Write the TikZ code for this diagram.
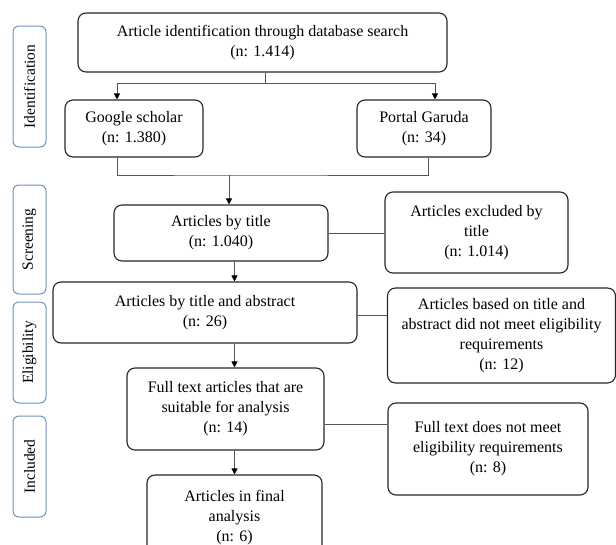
\documentclass[tikz,border=0pt]{standalone}
\usepackage{fontspec}
\setmainfont{Liberation Serif}
\usetikzlibrary{arrows.meta}
\definecolor{stageblue}{HTML}{6F93BE}
\definecolor{linegray}{HTML}{555555}
\tikzset{
  box/.style={draw=black!85, line width=1.1pt, rounded corners=8pt, align=center,
    font=\fontsize{16}{20}\selectfont, inner sep=2pt},
  stage/.style={draw=stageblue, line width=1pt, rounded corners=6pt, rotate=90,
    font=\fontsize{15.5}{18}\selectfont, inner sep=0pt},
  link/.style={draw=linegray, line width=0.8pt},
  arr/.style={link, -{Triangle[length=6pt,width=6pt,color=black]}}
}
\begin{document}
\begin{tikzpicture}[x=1pt,y=-1pt]
\useasboundingbox (0,0) rectangle (616,544);
\clip (0,0) rectangle (616,544);
% stages
\node[stage, minimum width=121, minimum height=33] (ident) at (29.5,86.5) {Identification};
\node[stage, minimum width=109, minimum height=33] (screen) at (29.5,239.5) {Screening};
\node[stage, minimum width=101, minimum height=33] (elig) at (29.5,352.5) {Eligibility};
\node[stage, minimum width=101, minimum height=33] (incl) at (29.5,466.5) {Included};
% boxes
\node[box, minimum width=369, minimum height=59] (search) at (262.5,42.5) {Article identification through database search\\(n: 1.414)};
\node[box, minimum width=138, minimum height=57] (google) at (134,128.5) {Google scholar\\(n: 1.380)};
\node[box, minimum width=134, minimum height=57] (garuda) at (424,128.5) {Portal Garuda\\(n: 34)};
\node[box, minimum width=214, minimum height=56] (bytitle) at (221,233) {Articles by title\\(n: 1.040)};
\node[box, minimum width=183, minimum height=81] (extitle) at (476.5,232.5) {Articles excluded by\\title\\(n: 1.014)};
\node[box, minimum width=304, minimum height=61] (byabs) at (205,312.5) {Articles by title and abstract\\(n: 26)};
\node[box, minimum width=228, minimum height=95] (exabs) at (501.5,335.5) {Articles based on title and\\abstract did not meet eligibility\\requirements\\(n: 12)};
\node[box, minimum width=197, minimum height=82] (full) at (225.5,409) {Full text articles that are\\suitable for analysis\\(n: 14)};
\node[box, minimum width=200, minimum height=92] (exfull) at (488,449) {Full text does not meet\\eligibility requirements\\(n: 8)};
\node[box, minimum width=175, minimum height=86] (final) at (234.5,518) {Articles in final\\analysis\\(n: 6)};
% connectors
\coordinate (split) at (265,83);
\coordinate (merge) at (229,175);
\draw[link] (search.south -| split) -- (split);
\draw[arr] (split) -| ([xshift=-17pt]google.north);
\draw[arr] (split) -| ([xshift=11pt]garuda.north);
\draw[link] ([xshift=-17pt]google.south) |- (merge) -| ([xshift=4pt]garuda.south);
\draw[arr] (merge) -- (merge |- bytitle.north);
\draw[arr] (bytitle.south -| final.north) -- (byabs.north -| final.north);
\draw[arr] (byabs.south -| final.north) -- (full.north -| final.north);
\draw[arr] (full.south -| final.north) -- (final.north);
\draw[link] (bytitle.east) -- (bytitle.east -| extitle.west);
\draw[link] ([yshift=-2.5pt]byabs.east) -- ([yshift=-2.5pt]byabs.east -| exabs.west);
\draw[link] ([yshift=-15pt]full.east) -- ([yshift=-15pt]full.east -| exfull.west);
\end{tikzpicture}
\end{document}
